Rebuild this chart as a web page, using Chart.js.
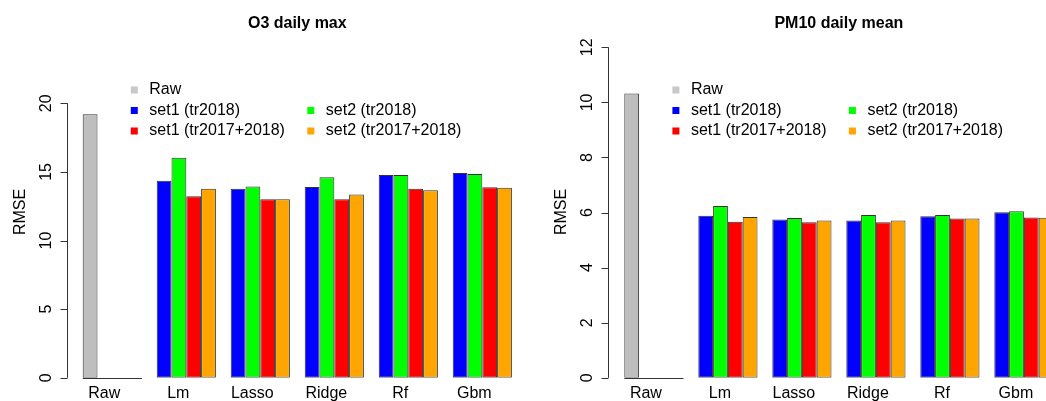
<!DOCTYPE html>
<html>
<head>
    <title>RMSE comparison</title>
    <script src="https://cdn.jsdelivr.net/npm/chart.js"></script>
    <style>
        body {
            margin: 0;
            padding: 0;
            background: #ffffff;
            overflow: hidden;
        }
        .row {
            display: flex;
            width: 1046px;
            height: 401px;
        }
        .panel {
            width: 523px;
            height: 401px;
            overflow: hidden;
            position: relative;
        }
        canvas {
            display: block;
        }
    </style>
</head>
<body>
<div class="row">
    <div class="panel"><canvas id="o3Chart" width="523" height="401"></canvas></div>
    <div class="panel"><canvas id="pmChart" width="540" height="401"></canvas></div>
</div>

<script>
    // Categories and legend labels
    const categories = ['Raw', 'Lm', 'Lasso', 'Ridge', 'Rf', 'Gbm'];
    const seriesNames = ['Raw', 'set1 (tr2018)', 'set2 (tr2018)', 'set1 (tr2017+2018)', 'set2 (tr2017+2018)'];
    const seriesColors = ['#bebebe', '#0000ff', '#00ff00', '#ff0000', '#ffa500'];

    // O3 daily max RMSE
    const o3Raw   = [19.2, null, null, null, null, null];
    const o3Set1  = [null, 14.35, 13.77, 13.91, 14.78, 14.93];
    const o3Set2  = [null, 16.04, 13.93, 14.61, 14.78, 14.85];
    const o3Set1b = [null, 13.23, 13.01, 13.01, 13.77, 13.88];
    const o3Set2b = [null, 13.77, 13.01, 13.36, 13.67, 13.84];

    // PM10 daily mean RMSE
    const pmRaw   = [10.32, null, null, null, null, null];
    const pmSet1  = [null, 5.88, 5.75, 5.71, 5.87, 6.01];
    const pmSet2  = [null, 6.24, 5.80, 5.91, 5.91, 6.05];
    const pmSet1b = [null, 5.67, 5.65, 5.65, 5.78, 5.82];
    const pmSet2b = [null, 5.84, 5.71, 5.71, 5.78, 5.81];

    const FONT = '"Liberation Sans", Arial, sans-serif';
    const EDGE = '#333333';

    // R style axis, baseline under the Raw group and legend
    const rStylePlugin = {
        id: 'rStyle',
        afterDatasetsDraw(chart) {
            const ctx = chart.ctx;
            const area = chart.chartArea;
            const y = chart.scales.y;
            const axisX = area.left - 8.5;

            ctx.save();
            ctx.strokeStyle = EDGE;
            ctx.lineWidth = 1;

            // baseline under the Raw group (zero height bars)
            const rawBar = chart.getDatasetMeta(0).data[0];
            const gLeft = rawBar.x - rawBar.width / 2;
            const base = Math.round(y.getPixelForValue(0)) + 0.5;
            ctx.beginPath();
            ctx.moveTo(gLeft, base);
            ctx.lineTo(gLeft + rawBar.width * 4, base);
            ctx.stroke();

            // y axis line and ticks
            const ax = Math.round(axisX) + 0.5;
            ctx.beginPath();
            ctx.moveTo(ax, y.getPixelForValue(y.min));
            ctx.lineTo(ax, y.getPixelForValue(y.max));
            y.ticks.forEach(t => {
                const py = Math.round(y.getPixelForValue(t.value)) + 0.5;
                ctx.moveTo(ax, py);
                ctx.lineTo(ax - 7, py);
            });
            ctx.stroke();

            ctx.fillStyle = '#000';
            ctx.font = '16px ' + FONT;
            ctx.textAlign = 'center';
            ctx.textBaseline = 'middle';
            y.ticks.forEach(t => {
                ctx.save();
                ctx.translate(ax - 21, y.getPixelForValue(t.value));
                ctx.rotate(-Math.PI / 2);
                ctx.fillText(String(t.value), 0, 0);
                ctx.restore();
            });

            // axis title
            ctx.save();
            ctx.translate(ax - 47, 212);
            ctx.rotate(-Math.PI / 2);
            ctx.fillText('RMSE', 0, 0);
            ctx.restore();

            // legend
            const rows = [[0], [1, 2], [3, 4]];
            ctx.textAlign = 'left';
            rows.forEach((row, r) => {
                row.forEach((s, c) => {
                    const sx = area.left + 59 + c * 176.5;
                    const sy = 90 + r * 20.5;
                    ctx.fillStyle = s === 0 ? '#c8c8c8' : seriesColors[s];
                    ctx.fillRect(sx - 3.5, sy - 3.5, 7, 7);
                    ctx.fillStyle = '#000';
                    ctx.fillText(seriesNames[s], sx + 15, sy);
                });
            });
            ctx.restore();
        }
    };

    function makeDatasets(raw, s1, s2, s1b, s2b) {
        const sets = [raw, s1, s2, s1b, s2b];
        const stacks = ['a', 'a', 'b', 'c', 'd'];
        return sets.map((values, i) => ({
            label: seriesNames[i],
            data: values,
            stack: stacks[i],
            backgroundColor: seriesColors[i],
            borderColor: EDGE,
            borderWidth: 1,
            borderSkipped: false,
            categoryPercentage: 0.8,
            barPercentage: 1.0
        }));
    }

    function createChart(id, title, datasets, yMax, step, padLeft, padRight, titleBottom) {
        return new Chart(document.getElementById(id), {
            type: 'bar',
            data: { labels: categories, datasets: datasets },
            options: {
                responsive: false,
                animation: false,
                layout: { padding: { left: padLeft, right: padRight, top: 0, bottom: -8 } },
                plugins: {
                    legend: { display: false },
                    tooltip: { enabled: false },
                    title: {
                        display: true,
                        text: title,
                        fullSize: false,
                        color: '#000',
                        font: { family: FONT, size: 16, weight: 'bold' },
                        padding: { top: 14, bottom: titleBottom }
                    }
                },
                scales: {
                    x: {
                        stacked: true,
                        offset: true,
                        grid: { display: false, drawTicks: false, tickLength: 0 },
                        border: { display: false },
                        ticks: {
                            color: '#000',
                            font: { family: FONT, size: 16 },
                            padding: 6,
                            labelOffset: -8,
                            maxRotation: 0
                        }
                    },
                    y: {
                        display: false,
                        stacked: true,
                        min: 0,
                        max: yMax,
                        ticks: { stepSize: step }
                    }
                }
            },
            plugins: [rStylePlugin]
        });
    }

    const o3Chart = createChart('o3Chart', 'O3 daily max',
        makeDatasets(o3Raw, o3Set1, o3Set2, o3Set1b, o3Set2b), 20, 5, 75.3, 3.7, 70.1);
    const pmChart = createChart('pmChart', 'PM10 daily mean',
        makeDatasets(pmRaw, pmSet1, pmSet2, pmSet1b, pmSet2b), 12, 2, 93.9, 2.1, 14.1);
</script>
</body>
</html>
